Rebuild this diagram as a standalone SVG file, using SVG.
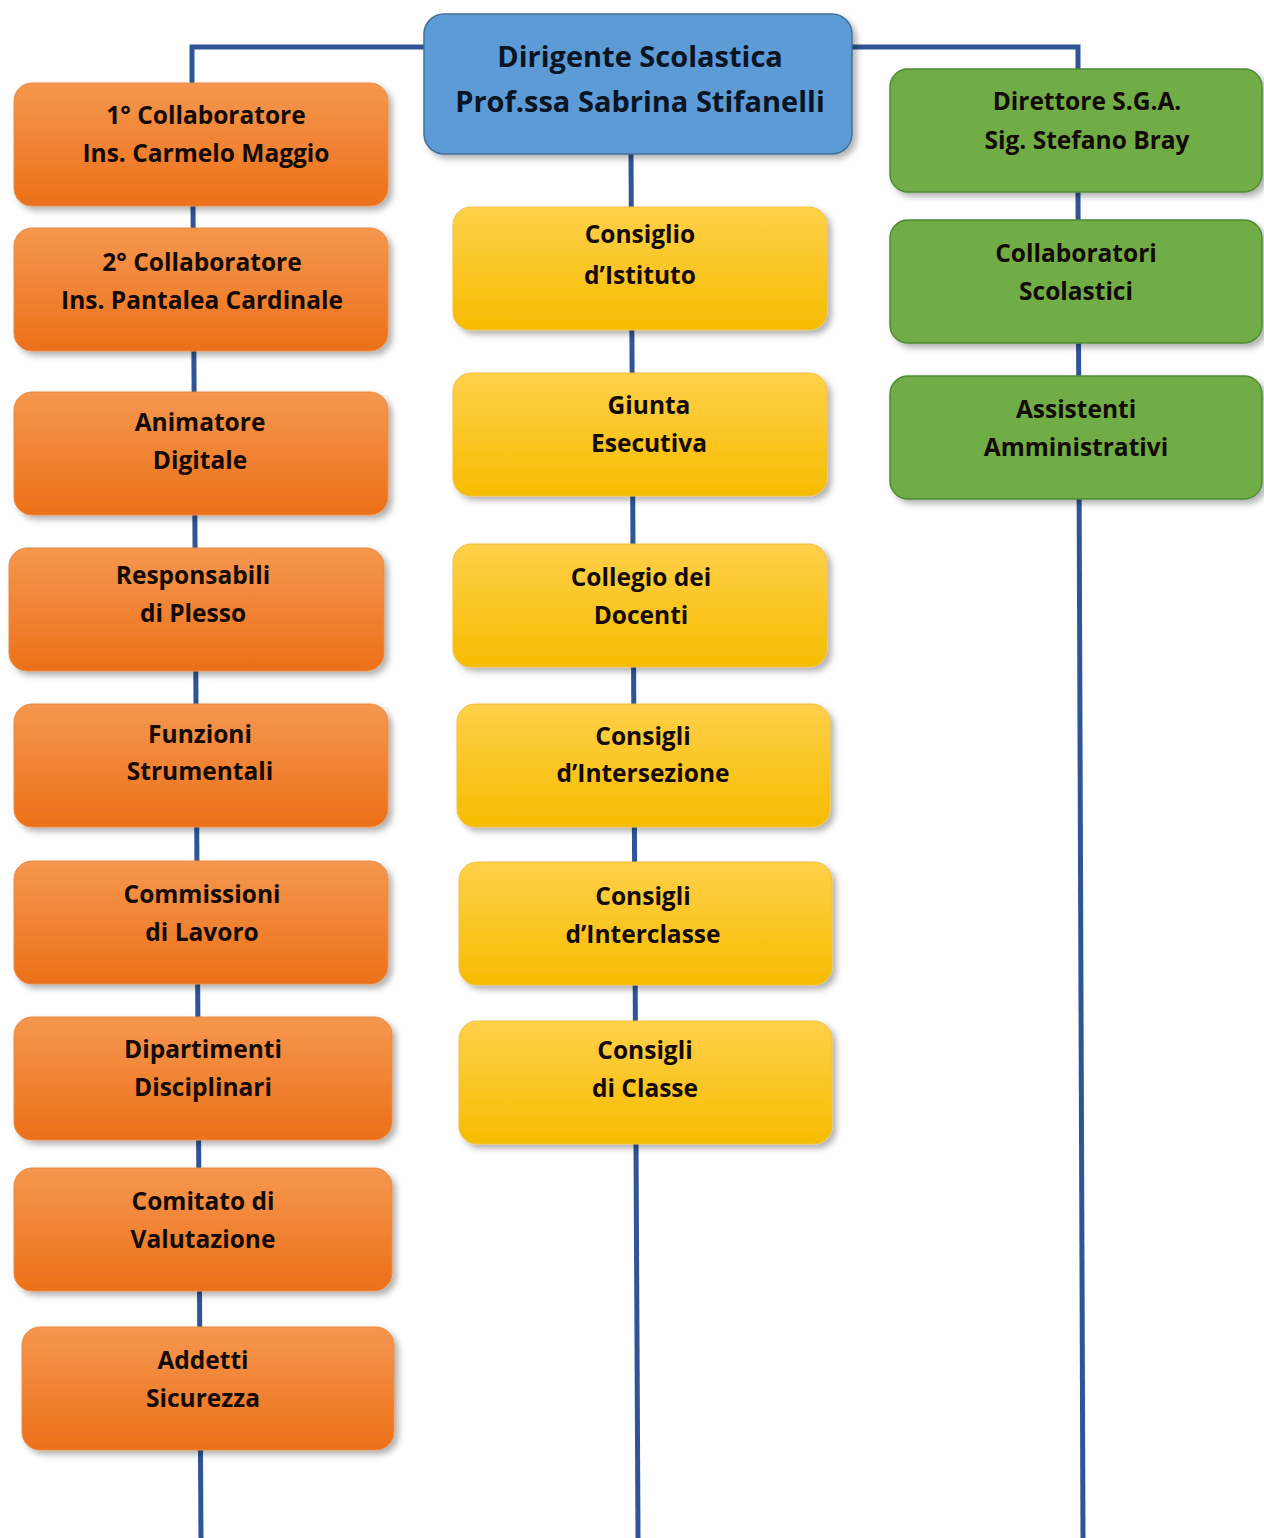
<svg xmlns="http://www.w3.org/2000/svg" width="1264" height="1538" viewBox="0 0 1264 1538">
<defs>
<linearGradient id="gOr" x1="0" y1="0" x2="0" y2="1"><stop offset="0" stop-color="#F5974F"/><stop offset="1" stop-color="#EC7019"/></linearGradient>
<linearGradient id="gYe" x1="0" y1="0" x2="0" y2="1"><stop offset="0" stop-color="#FFD04A"/><stop offset="1" stop-color="#F6BC00"/></linearGradient>
<filter id="sh" x="-10%" y="-10%" width="125%" height="130%"><feDropShadow dx="4" dy="4" stdDeviation="3" flood-color="#000" flood-opacity="0.3"/></filter>
</defs>
<style>
.or{fill:url(#gOr);stroke:#E98A45;stroke-width:1;filter:url(#sh)}
.ye{fill:url(#gYe);stroke:#F0C040;stroke-width:1;filter:url(#sh)}
.gr{fill:#70AD47;stroke:#4E8A34;stroke-width:1.5;filter:url(#sh)}
.bl{fill:#5B9BD5;stroke:#41719C;stroke-width:1.5;filter:url(#sh)}
text{font-family:"Open Sans","Liberation Sans",sans-serif;font-weight:700;text-anchor:middle;fill:#140A04}
.t{font-size:24.5px}
.tb{font-size:29px;fill:#0B1422}
.conn{stroke:#2F5597;stroke-width:5;fill:none}
</style>
<rect width="1264" height="1538" fill="#FFFFFF"/>
<g id="connectors">
<path class="conn" d="M424 47 H192 V83"/>
<path class="conn" d="M852 47 H1078 V69"/>
<line class="conn" x1="193" y1="206" x2="201" y2="1538"/>
<line class="conn" x1="631" y1="154" x2="638" y2="1538"/>
<line class="conn" x1="1078" y1="192" x2="1083" y2="1538"/>
</g>
<g id="dirigente"><rect class="bl" x="424" y="14" width="428" height="140" rx="20"/><text class="tb" x="640" y="67">Dirigente Scolastica</text><text class="tb" x="640" y="112">Prof.ssa Sabrina Stifanelli</text></g>

<g id="collab1"><rect class="or" x="14" y="83" width="374" height="123" rx="18"/><text class="t" x="206" y="124">1° Collaboratore</text><text class="t" x="206" y="162">Ins. Carmelo Maggio</text></g>
<g id="collab2"><rect class="or" x="14" y="228" width="374" height="123" rx="18"/><text class="t" x="202" y="271">2° Collaboratore</text><text class="t" x="202" y="309">Ins. Pantalea Cardinale</text></g>
<g id="animatore"><rect class="or" x="14" y="392" width="374" height="123" rx="18"/><text class="t" x="200" y="431">Animatore</text><text class="t" x="200" y="469">Digitale</text></g>
<g id="responsabili"><rect class="or" x="9" y="548" width="375" height="123" rx="18"/><text class="t" x="193" y="584">Responsabili</text><text class="t" x="193" y="622">di Plesso</text></g>
<g id="funzioni"><rect class="or" x="14" y="704" width="374" height="123" rx="18"/><text class="t" x="200" y="743">Funzioni</text><text class="t" x="200" y="780">Strumentali</text></g>
<g id="commissioni"><rect class="or" x="14" y="861" width="374" height="123" rx="18"/><text class="t" x="202" y="903">Commissioni</text><text class="t" x="202" y="941">di Lavoro</text></g>
<g id="dipartimenti"><rect class="or" x="14" y="1017" width="378" height="123" rx="18"/><text class="t" x="203" y="1058">Dipartimenti</text><text class="t" x="203" y="1096">Disciplinari</text></g>
<g id="comitato"><rect class="or" x="14" y="1168" width="378" height="123" rx="18"/><text class="t" x="203" y="1210">Comitato di</text><text class="t" x="203" y="1248">Valutazione</text></g>
<g id="addetti"><rect class="or" x="22" y="1327" width="372" height="123" rx="18"/><text class="t" x="203" y="1369">Addetti</text><text class="t" x="203" y="1407">Sicurezza</text></g>

<g id="consiglio-istituto"><rect class="ye" x="453" y="207" width="374" height="123" rx="18"/><text class="t" x="640" y="243">Consiglio</text><text class="t" x="640" y="284">d’Istituto</text></g>
<g id="giunta"><rect class="ye" x="453" y="373" width="374" height="123" rx="18"/><text class="t" x="649" y="414">Giunta</text><text class="t" x="649" y="452">Esecutiva</text></g>
<g id="collegio"><rect class="ye" x="453" y="544" width="374" height="123" rx="18"/><text class="t" x="641" y="586">Collegio dei</text><text class="t" x="641" y="624">Docenti</text></g>
<g id="intersezione"><rect class="ye" x="457" y="704" width="373" height="123" rx="18"/><text class="t" x="643" y="745">Consigli</text><text class="t" x="643" y="782">d’Intersezione</text></g>
<g id="interclasse"><rect class="ye" x="459" y="862" width="373" height="123" rx="18"/><text class="t" x="643" y="905">Consigli</text><text class="t" x="643" y="943">d’Interclasse</text></g>
<g id="classe"><rect class="ye" x="459" y="1021" width="373" height="123" rx="18"/><text class="t" x="645" y="1059">Consigli</text><text class="t" x="645" y="1097">di Classe</text></g>

<g id="dsga"><rect class="gr" x="890" y="69" width="372" height="123" rx="18"/><text class="t" x="1087" y="110">Direttore S.G.A.</text><text class="t" x="1087" y="149">Sig. Stefano Bray</text></g>
<g id="collaboratori-scolastici"><rect class="gr" x="890" y="220" width="372" height="123" rx="18"/><text class="t" x="1076" y="262">Collaboratori</text><text class="t" x="1076" y="300">Scolastici</text></g>
<g id="assistenti"><rect class="gr" x="890" y="376" width="372" height="123" rx="18"/><text class="t" x="1076" y="418">Assistenti</text><text class="t" x="1076" y="456">Amministrativi</text></g>
</svg>
